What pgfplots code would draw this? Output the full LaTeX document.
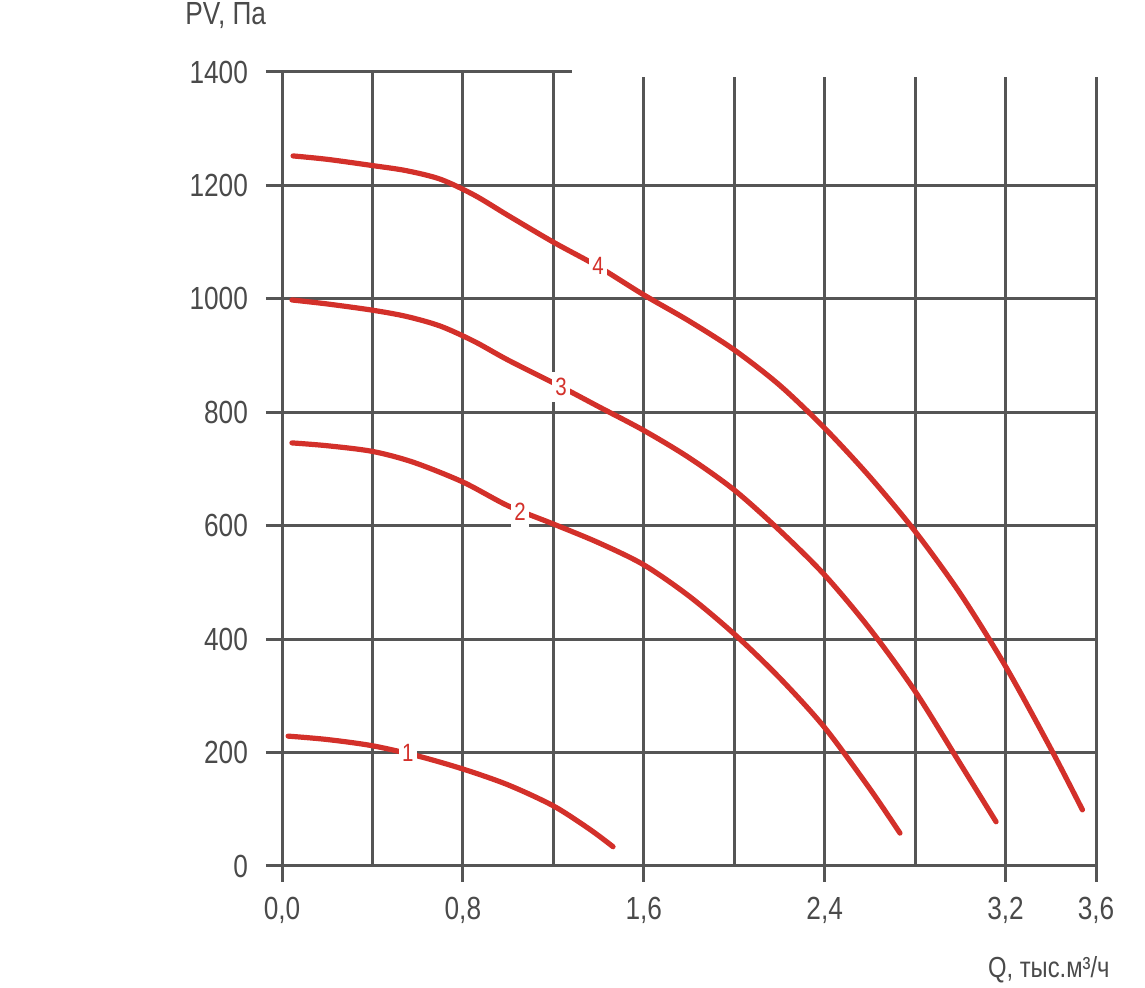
\documentclass[border=0pt]{standalone}
\usepackage{pgfplots}
\pgfplotsset{compat=1.18}
\usepackage{fontspec}
\setmainfont{Liberation Sans}[FakeStretch=0.82]
\definecolor{gridgray}{HTML}{555555}
\definecolor{txtgray}{HTML}{4A4A4A}
\definecolor{curvered}{HTML}{D3302A}
\begin{document}
\begin{tikzpicture}
\useasboundingbox (-141pt,-61pt) rectangle (431.5pt,433pt);
\clip (-141pt,-61pt) rectangle (431.5pt,433pt);
\begin{axis}[
  at={(0,0)}, anchor=south west,
  scale only axis, width=407pt, height=397pt,
  xmin=0, xmax=3.6, ymin=0, ymax=1400,
  axis line style={draw=none},
  xtick={0,0.8,1.6,2.4,3.2,3.6},
  xticklabels={{0,0},{0,8},{1,6},{2,4},{3,2},{3,6}},
  minor xtick={0.4,1.2,2.0,2.8},
  ytick={0,200,400,600,800,1000,1200,1400},
  yticklabels={0,200,400,600,800,1000,1200,1400},
  xtick pos=bottom, ytick pos=left,
  tick align=outside,
  major tick length=8pt, minor tick length=0pt,
  xmajorgrids, ymajorgrids, xminorgrids,
  grid style={gridgray, line width=1.5pt},
  minor grid style={gridgray, line width=1.5pt},
  major tick style={gridgray, line width=1.5pt},
  tick label style={font=\fontsize{16}{18}\selectfont, text=txtgray},
  xticklabel style={yshift=-4pt},
  yticklabel style={xshift=-5.5pt},
  /pgf/number format/assume math mode=true,
  clip=false,
]
\addplot[curvered, line width=2.6pt, smooth, line cap=round] coordinates {
(0.027,229) (0.2,223) (0.4,212) (0.6,194) (0.8,171) (1.0,143) (1.2,106) (1.36,65) (1.464,34)};
\addplot[curvered, line width=2.6pt, smooth, line cap=round] coordinates {
(0.044,746) (0.2,741) (0.4,731) (0.58,712) (0.8,677) (1.0,635) (1.2,603) (1.4,570) (1.6,531) (1.8,476) (2.0,409) (2.2,332) (2.4,244) (2.6,136) (2.733,58)};
\addplot[curvered, line width=2.6pt, smooth, line cap=round] coordinates {
(0.044,998) (0.2,991) (0.4,980) (0.55,969) (0.7,952) (0.85,925) (1.0,892) (1.234,845) (1.4,810) (1.6,768) (1.8,720) (2.0,663) (2.2,592) (2.4,513) (2.6,418) (2.8,308) (3.0,180) (3.158,78)};
\addplot[curvered, line width=2.6pt, smooth, line cap=round] coordinates {
(0.049,1252) (0.2,1246) (0.4,1235) (0.55,1226) (0.7,1211) (0.85,1183) (1.0,1147) (1.2,1100) (1.398,1057) (1.6,1007) (1.8,961) (2.0,910) (2.2,848) (2.4,772) (2.6,686) (2.8,590) (3.0,480) (3.2,352) (3.4,207) (3.54,99)};
\node[fill=white, inner xsep=1.5pt, inner ysep=3pt, text=curvered, font=\fontsize{12.5}{13}\selectfont] at (axis cs:0.557,199) {1};
\node[fill=white, inner xsep=1.5pt, inner ysep=3pt, text=curvered, font=\fontsize{12.5}{13}\selectfont] at (axis cs:1.053,624) {2};
\node[fill=white, inner xsep=1.5pt, inner ysep=3pt, text=curvered, font=\fontsize{12.5}{13}\selectfont] at (axis cs:1.234,845) {3};
\node[fill=white, inner xsep=1.5pt, inner ysep=3pt, text=curvered, font=\fontsize{12.5}{13}\selectfont] at (axis cs:1.398,1058) {4};
\fill[white] (axis cs:1.283,1391) rectangle (440pt,440pt);
\end{axis}
\node[anchor=base west, inner sep=0pt, text=txtgray, font=\fontsize{16}{18}\selectfont] at (-48.5pt,420.5pt) {PV, Па};
\node[anchor=base east, inner sep=0pt, text=txtgray, font=\fontsize{14.5}{18}\selectfont] at (414pt,-56pt) {Q, тыс.м³/ч};
\end{tikzpicture}
\end{document}
